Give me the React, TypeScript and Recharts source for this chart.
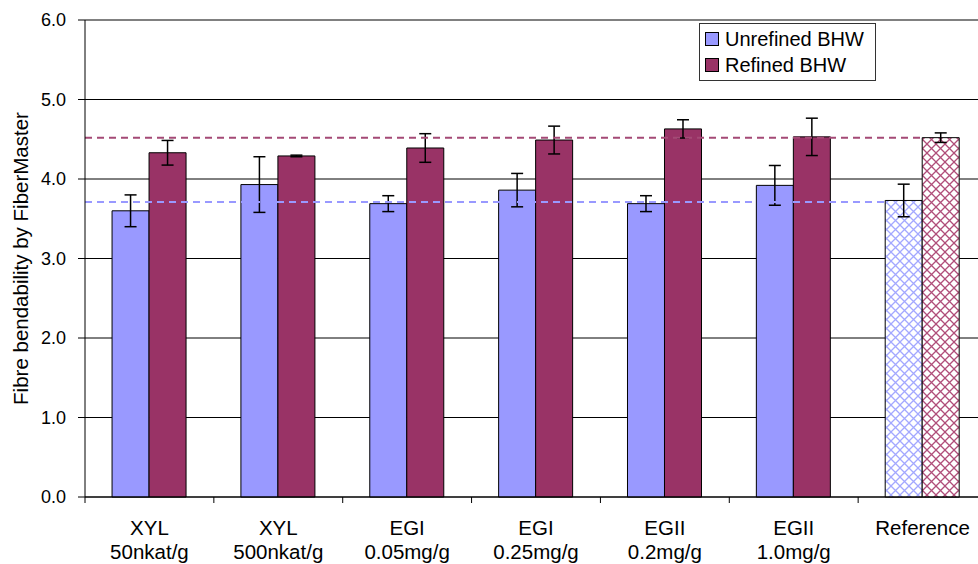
import { BarChart, Bar, XAxis, YAxis, CartesianGrid, ErrorBar, Cell, ReferenceLine } from "recharts";

// Treatment labels (two lines under each group)
const catTop = ["XYL", "XYL", "EGI", "EGI", "EGII", "EGII", "Reference"];
const catBottom = ["50nkat/g", "500nkat/g", "0.05mg/g", "0.25mg/g", "0.2mg/g", "1.0mg/g", ""];

const unrefined = [3.6, 3.93, 3.69, 3.86, 3.69, 3.92, 3.73];
const unrefinedErr = [0.2, 0.35, 0.1, 0.21, 0.1, 0.25, 0.205];
const refined = [4.33, 4.29, 4.39, 4.49, 4.63, 4.53, 4.52];
const refinedErr = [0.155, 0.01, 0.18, 0.175, 0.115, 0.235, 0.06];

// dashed reference levels (the untreated reference pulps)
const unrefinedLevel = 3.71;
const refinedLevel = 4.52;

const yTicks = [0, 1, 2, 3, 4, 5, 6];

const BLUE = "#9999FF";
const MAROON = "#993366";
const FONT = "'Liberation Sans', Arial, sans-serif";
const GAP = 0.21;

const data = catTop.map((c, i) => ({
  name: i,
  unrefined: unrefined[i],
  unrefinedErr: unrefinedErr[i],
  refined: refined[i],
  refinedErr: refinedErr[i],
}));

const n = data.length;

function TwoLineTick(props: any) {
  const { x, y, payload } = props;
  const i = payload.value as number;
  const off = payload.offset ?? 0;
  return (
    <g>
      <line x1={x - off} x2={x - off} y1={y - 8} y2={y - 2} stroke="#000" strokeWidth={1} />
      <text x={x} y={y + 30} textAnchor="middle" fontSize={20.5} fontFamily={FONT} fill="#000">
        {catTop[i]}
      </text>
      <text x={x} y={y + 54} textAnchor="middle" fontSize={20.5} fontFamily={FONT} fill="#000">
        {catBottom[i]}
      </text>
    </g>
  );
}

// line from the plot's left edge up to a fraction of the last category
function dashedTo(frac: number, color: string) {
  return (p: any) => {
    const band = (p.x2 - p.x1) / n;
    const end = p.x1 + band * (n - 1) + band * frac;
    return <line x1={p.x1} x2={end} y1={p.y1} y2={p.y2} stroke={color} strokeWidth={2} strokeDasharray="7 5" />;
  };
}

function Legend() {
  const row = (color: string, label: string) => (
    <div style={{ display: "flex", alignItems: "center", height: 26 }}>
      <div style={{ width: 12, height: 12, background: color, border: "1px solid #000", marginRight: 6 }} />
      <span>{label}</span>
    </div>
  );
  return (
    <div
      style={{
        position: "absolute",
        left: 699,
        top: 23,
        width: 170,
        height: 52,
        padding: "2px 0 2px 5px",
        border: "1px solid #333",
        background: "#fff",
        fontFamily: FONT,
        fontSize: 20,
        lineHeight: "26px",
      }}
    >
      {row(BLUE, "Unrefined BHW")}
      {row(MAROON, "Refined BHW")}
    </div>
  );
}

export default function App() {
  return (
    <div style={{ position: "absolute", left: 0, top: 0, width: 978, height: 564, overflow: "hidden", background: "#fff" }}>
      <BarChart
        width={1000}
        height={564}
        data={data}
        margin={{ top: 20, right: 13, left: 0, bottom: 0 }}
        barGap={0}
        barCategoryGap={`${GAP * 100}%`}
      >
        <defs>
          <pattern id="hatchU" width="9" height="9" patternUnits="userSpaceOnUse">
            <rect width="9" height="9" fill="#fff" />
            <path d="M0,0 L9,9 M9,0 L0,9" stroke="#a3a8ff" strokeWidth={1.3} />
          </pattern>
          <pattern id="hatchR" width="9" height="9" patternUnits="userSpaceOnUse">
            <rect width="9" height="9" fill="#fff" />
            <path d="M0,0 L9,9 M9,0 L0,9" stroke="#b04e7a" strokeWidth={1.3} />
          </pattern>
        </defs>
        <CartesianGrid vertical={false} stroke="#000" strokeWidth={1} />
        <XAxis
          dataKey="name"
          type="category"
          height={67}
          axisLine={{ stroke: "#000" }}
          tickLine={false}
          interval={0}
          tick={<TwoLineTick />}
        />
        <YAxis
          width={85}
          domain={[0, 6]}
          ticks={yTicks}
          tickFormatter={(v: number) => v.toFixed(1)}
          axisLine={{ stroke: "#000" }}
          tickLine={{ stroke: "#000" }}
          tickSize={7}
          tickMargin={12}
          tick={{ fontSize: 18, fontFamily: FONT, fill: "#000" }}
          label={{
            content: (p: any) => {
              const vb = p.viewBox;
              const cx = 28;
              const cy = vb.y + vb.height / 2;
              return (
                <text
                  x={cx}
                  y={cy}
                  transform={`rotate(-90 ${cx} ${cy})`}
                  textAnchor="middle"
                  fontSize={20.5}
                  fontFamily={FONT}
                  fill="#000"
                >
                  Fibre bendability by FiberMaster
                </text>
              );
            },
          }}
        />
        <ReferenceLine y={6} stroke="#808080" strokeWidth={2} />
        <Bar dataKey="unrefined" stroke="#000" strokeWidth={1} isAnimationActive={false}>
          {data.map((_, i) => (
            <Cell key={i} fill={i === n - 1 ? "url(#hatchU)" : BLUE} />
          ))}
          <ErrorBar dataKey="unrefinedErr" width={6} stroke="#000" strokeWidth={1.5} />
        </Bar>
        <Bar dataKey="refined" stroke="#000" strokeWidth={1} isAnimationActive={false}>
          {data.map((_, i) => (
            <Cell key={i} fill={i === n - 1 ? "url(#hatchR)" : MAROON} />
          ))}
          <ErrorBar dataKey="refinedErr" width={6} stroke="#000" strokeWidth={1.5} />
        </Bar>
        <ReferenceLine y={unrefinedLevel} shape={dashedTo(GAP, BLUE)} />
        <ReferenceLine y={refinedLevel} shape={dashedTo(0.5, "#a44a76")} />
      </BarChart>
      <Legend />
    </div>
  );
}
